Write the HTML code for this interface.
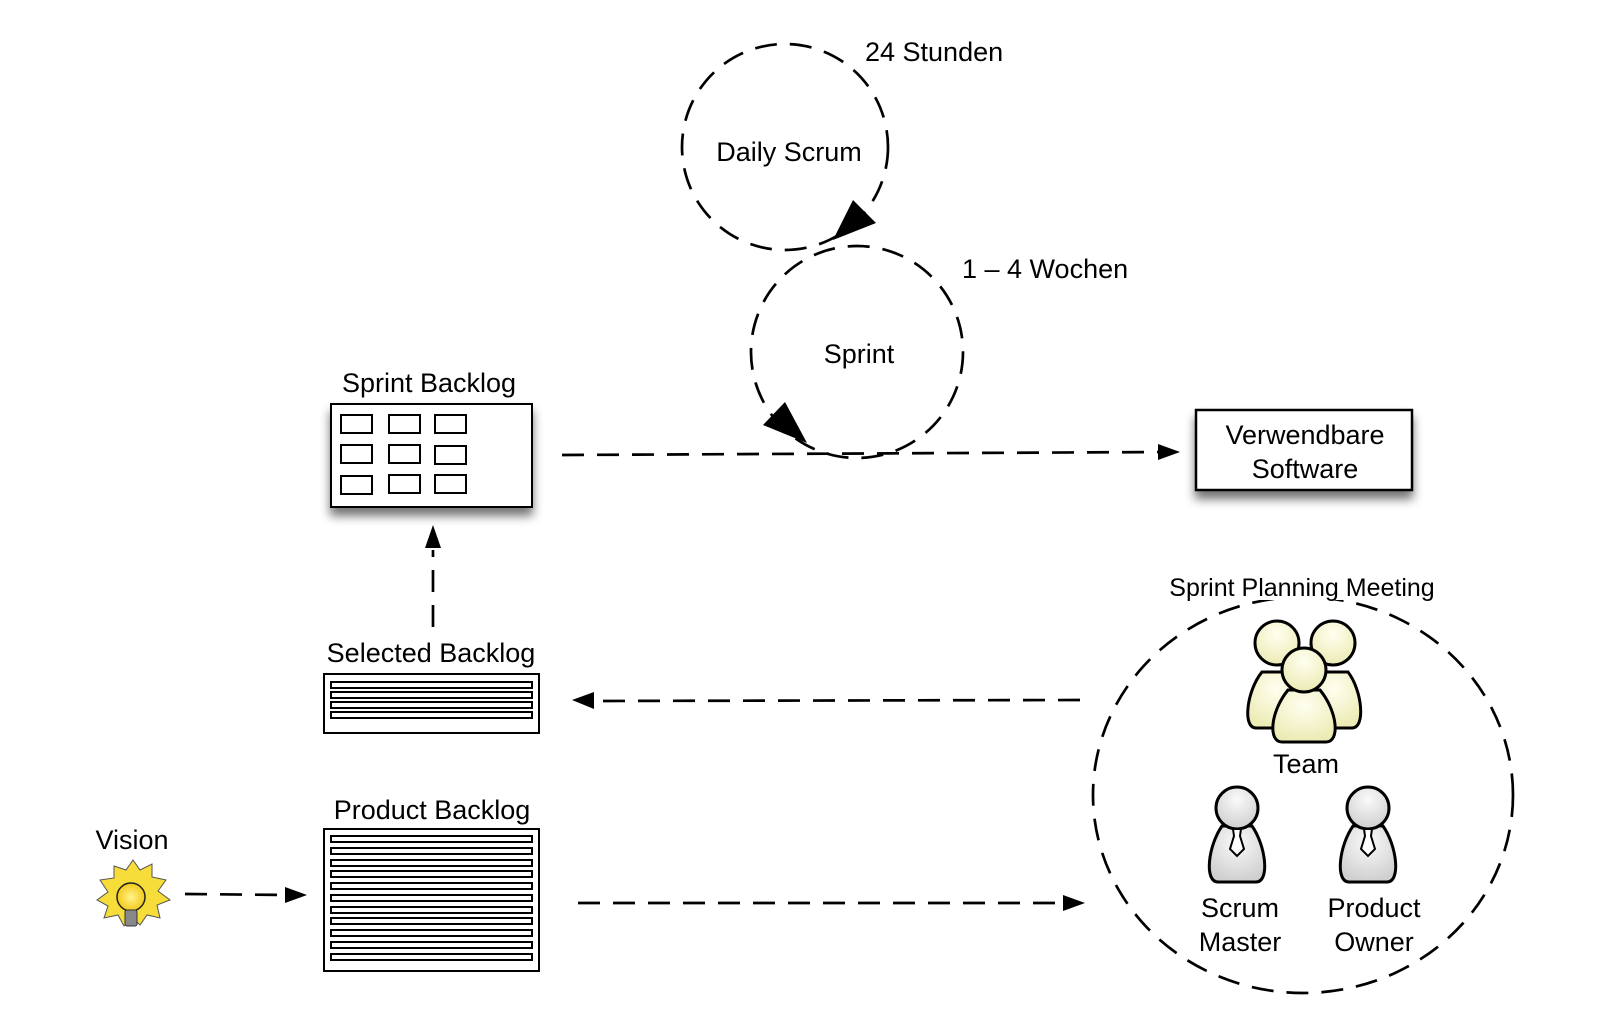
<!DOCTYPE html>
<html><head><meta charset="utf-8"><style>
html,body{margin:0;padding:0;background:#fff;}
svg text{font-family:"Liberation Sans",Arial,sans-serif;fill:#000;}
</style></head><body>
<svg width="1602" height="1018" viewBox="0 0 1602 1018" xmlns="http://www.w3.org/2000/svg">
<defs>
<filter id="sh" x="-20%" y="-20%" width="140%" height="160%"><feGaussianBlur in="SourceAlpha" stdDeviation="5"/><feOffset dx="0" dy="8"/><feComponentTransfer><feFuncA type="linear" slope="0.55"/></feComponentTransfer><feMerge><feMergeNode/><feMergeNode in="SourceGraphic"/></feMerge></filter>
<radialGradient id="yel" cx="50%" cy="30%" r="70%"><stop offset="0" stop-color="#fffff0"/><stop offset="1" stop-color="#ecebb4"/></radialGradient>
<radialGradient id="gry" cx="50%" cy="30%" r="70%"><stop offset="0" stop-color="#fafafa"/><stop offset="1" stop-color="#cfcfcf"/></radialGradient>
<radialGradient id="bulb" cx="50%" cy="50%" r="50%"><stop offset="0" stop-color="#fff48a"/><stop offset="1" stop-color="#f3c91c"/></radialGradient>
</defs>
<g fill="none" stroke="#000" stroke-width="2.7" stroke-dasharray="22 13">
<circle cx="785" cy="147" r="103"/>
<circle cx="857" cy="352" r="106"/>
<line x1="562" y1="455" x2="1165" y2="452"/>
<line x1="433" y1="627" x2="433" y2="550"/>
<line x1="1080" y1="700" x2="590" y2="701"/>
<line x1="185" y1="894" x2="290" y2="895"/>
<line x1="578" y1="903" x2="1072" y2="903"/>
<ellipse cx="1303" cy="795" rx="210" ry="198"/>
</g>
<polygon points="833,240 853,200 876,223"/>
<polygon points="807,443 763,425 785,402"/>
<polygon points="1180,452 1158,444 1158,460"/>
<polygon points="433,525 425,548 441,548"/>
<polygon points="572,700 594,692 594,709"/>
<polygon points="307,895 285,887 285,903"/>
<polygon points="1085,903 1063,895 1063,911"/>
<rect x="1158" y="570" width="290" height="30" fill="#fff"/>
<text x="865" y="61" font-size="27">24 Stunden</text>
<text x="789" y="161" font-size="27" text-anchor="middle">Daily Scrum</text>
<text x="962" y="278" font-size="27">1 – 4 Wochen</text>
<text x="859" y="363" font-size="27" text-anchor="middle">Sprint</text>
<text x="429" y="392" font-size="27" text-anchor="middle">Sprint Backlog</text>
<text x="431" y="662" font-size="27" text-anchor="middle">Selected Backlog</text>
<text x="432" y="819" font-size="27" text-anchor="middle">Product Backlog</text>
<text x="132" y="849" font-size="27" text-anchor="middle">Vision</text>
<text x="1302" y="596" font-size="25" text-anchor="middle">Sprint Planning Meeting</text>
<text x="1306" y="773" font-size="27" text-anchor="middle">Team</text>
<text x="1240" y="917" font-size="27" text-anchor="middle">Scrum</text>
<text x="1240" y="951" font-size="27" text-anchor="middle">Master</text>
<text x="1374" y="917" font-size="27" text-anchor="middle">Product</text>
<text x="1374" y="951" font-size="27" text-anchor="middle">Owner</text>
<rect x="331" y="404" width="201" height="103" fill="#fff" stroke="#000" stroke-width="2" filter="url(#sh)"/>
<g fill="none" stroke="#000" stroke-width="2">
<rect x="341" y="415" width="31" height="18"/><rect x="389" y="415" width="31" height="18"/><rect x="435" y="415" width="31" height="18"/>
<rect x="341" y="445" width="31" height="18"/><rect x="389" y="445" width="31" height="18"/><rect x="435" y="446" width="31" height="18"/>
<rect x="341" y="476" width="31" height="18"/><rect x="389" y="475" width="31" height="18"/><rect x="435" y="475" width="31" height="18"/>
</g>
<rect x="1196" y="410" width="216" height="80" fill="#fff" stroke="#000" stroke-width="2.5" filter="url(#sh)"/>
<text x="1305" y="444" font-size="27" text-anchor="middle">Verwendbare</text>
<text x="1305" y="478" font-size="27" text-anchor="middle">Software</text>
<rect x="324" y="674" width="215" height="59" fill="#fff" stroke="#000" stroke-width="2"/>
<g fill="none" stroke="#000" stroke-width="2">
<rect x="331" y="682" width="201" height="6"/><rect x="331" y="692" width="201" height="6"/><rect x="331" y="702" width="201" height="6"/><rect x="331" y="712" width="201" height="6"/>
</g>
<rect x="324" y="829" width="215" height="142" fill="#fff" stroke="#000" stroke-width="2"/>
<g fill="none" stroke="#000" stroke-width="2">
<rect x="331" y="836" width="201" height="6"/><rect x="331" y="848" width="201" height="6"/><rect x="331" y="860" width="201" height="6"/><rect x="331" y="871" width="201" height="6"/><rect x="331" y="883" width="201" height="6"/><rect x="331" y="895" width="201" height="6"/><rect x="331" y="907" width="201" height="6"/><rect x="331" y="918" width="201" height="6"/><rect x="331" y="930" width="201" height="6"/><rect x="331" y="942" width="201" height="6"/><rect x="331" y="954" width="201" height="6"/>
</g>
<polygon points="133,860 140,870 152,864 152,877 166,880 158,891 170,900 157,905 160,918 147,915 140,925 133,918 124,926 118,915 104,918 108,906 97,900 108,892 100,880 114,878 114,866 126,870" fill="#f7dd3a" stroke="#555" stroke-width="1"/>
<circle cx="131" cy="897" r="14" fill="url(#bulb)" stroke="#222" stroke-width="1.5"/>
<rect x="125" y="910" width="12" height="16" rx="2" fill="#888" stroke="#333" stroke-width="1"/>
<g stroke="#000" stroke-width="3" fill="url(#yel)">
<path d="M1256,728 C1242,728 1247,690 1262,672 L1292,672 C1306,690 1308,728 1294,728 Z"/>
<circle cx="1277" cy="643" r="22"/>
<path d="M1316,728 C1302,728 1305,690 1318,672 L1348,672 C1362,690 1366,728 1352,728 Z"/>
<circle cx="1333" cy="643" r="22"/>
<path d="M1282,742 C1268,742 1270,712 1288,690 L1320,690 C1338,712 1340,742 1326,742 Z"/>
<circle cx="1304" cy="670" r="22"/>
</g>
<g stroke="#000" stroke-width="3" fill="url(#gry)">
<path d="M1218,882 C1204,882 1208,846 1222,826 L1252,826 C1266,846 1270,882 1256,882 Z"/>
<circle cx="1237" cy="808" r="21"/>
<path d="M1349,882 C1335,882 1339,846 1353,826 L1383,826 C1397,846 1401,882 1387,882 Z"/>
<circle cx="1368" cy="808" r="21"/>
</g>
<g stroke="#000" stroke-width="2" fill="#fff">
<polygon points="1233,829 1241,829 1240,836 1244,849 1237,856 1230,849 1234,836"/>
<polygon points="1364,829 1372,829 1371,836 1375,849 1368,856 1361,849 1365,836"/>
</g>
</svg>
</body></html>
